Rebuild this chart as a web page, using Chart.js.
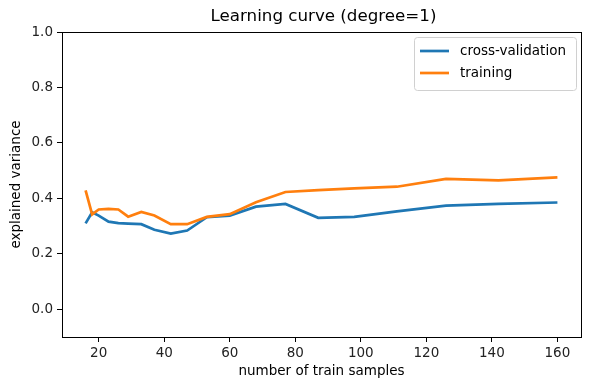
<!DOCTYPE html>
<html>
<head>
<meta charset="utf-8">
<script src="https://cdn.jsdelivr.net/npm/chart.js@4/dist/chart.umd.min.js"></script>
<style>
  html, body { margin: 0; padding: 0; background: #fff; }
  #wrap { width: 590px; height: 390px; }
</style>
</head>
<body>
<div id="wrap"><canvas id="chart-curve" width="590" height="390"></canvas></div>
<script>
// Learning curve values
const trainSizes = [16, 18, 20, 23, 26, 29, 33, 37, 42, 47, 53, 60, 68, 77, 87, 98, 111, 126, 142, 160];
const cvScores = [0.310, 0.350, 0.338, 0.316, 0.311, 0.309, 0.307, 0.287, 0.273, 0.284,
                  0.332, 0.338, 0.370, 0.380, 0.330, 0.333, 0.353, 0.374, 0.380, 0.385];
const trainScores = [0.429, 0.342, 0.360, 0.362, 0.360, 0.334, 0.351, 0.338, 0.307, 0.307,
                     0.333, 0.343, 0.386, 0.423, 0.430, 0.436, 0.442, 0.470, 0.465, 0.476];
const xTicks = [20, 40, 60, 80, 100, 120, 140, 160];
const yTicks = [0.0, 0.2, 0.4, 0.6, 0.8, 1.0];

const FONT = "'DejaVu Sans', sans-serif";
const BLUE = "#1f77b4";
const ORANGE = "#ff7f0e";

// frame, title and matplotlib-style legend
const decor = {
    id: "decor",
    afterDraw(chart) {
        const ctx = chart.ctx;
        const a = chart.chartArea;
        ctx.save();
        ctx.strokeStyle = "#000";
        ctx.lineWidth = 1;
        ctx.strokeRect(Math.round(a.left) + 0.5, Math.round(a.top) + 0.5,
                       Math.round(a.right - a.left), Math.round(a.bottom - a.top));

        ctx.fillStyle = "#000";
        ctx.font = "16.7px " + FONT;
        ctx.textAlign = "center";
        ctx.textBaseline = "middle";
        ctx.fillText("Learning curve (degree=1)", (a.left + a.right) / 2 + 2, 17);

        // legend
        const bx = a.right - 167, by = a.top + 5, bw = 162, bh = 53;
        ctx.beginPath();
        ctx.roundRect(bx + 0.5, by + 0.5, bw, bh, 3);
        ctx.fillStyle = "rgba(255,255,255,0.8)";
        ctx.fill();
        ctx.strokeStyle = "#d0d0d0";
        ctx.stroke();
        ctx.font = "13.5px " + FONT;
        ctx.textAlign = "left";
        chart.data.datasets.forEach((ds, i) => {
            const y = by + 14 + i * 22;
            ctx.strokeStyle = ds.borderColor;
            ctx.lineWidth = 2.7;
            ctx.beginPath();
            ctx.moveTo(bx + 6, y);
            ctx.lineTo(bx + 35, y);
            ctx.stroke();
            ctx.fillStyle = "#000";
            ctx.fillText(ds.label, bx + 46, y);
        });
        ctx.restore();
    }
};

new Chart(document.getElementById("chart-curve"), {
    type: "line",
    data: {
        labels: trainSizes,
        datasets: [{
            label: "cross-validation",
            data: trainSizes.map((x, i) => ({ x: x, y: cvScores[i] })),
            borderColor: BLUE,
            borderWidth: 2.7,
            pointRadius: 0,
            tension: 0,
            order: 1
        }, {
            label: "training",
            data: trainSizes.map((x, i) => ({ x: x, y: trainScores[i] })),
            borderColor: ORANGE,
            borderWidth: 2.7,
            pointRadius: 0,
            tension: 0,
            order: 0
        }]
    },
    options: {
        responsive: false,
        animation: false,
        events: [],
        layout: { padding: { top: 32, right: 9, left: 0, bottom: 0 } },
        plugins: {
            legend: { display: false },
            title: { display: false },
            tooltip: { enabled: false }
        },
        scales: {
            x: {
                type: "linear",
                min: 8.8,
                max: 167.2,
                afterBuildTicks: s => { s.ticks = xTicks.map(v => ({ value: v })); },
                afterFit: s => { s.height = 53; },
                grid: { drawOnChartArea: false, drawTicks: true, tickLength: 5, color: "#000" },
                border: { display: true, color: "#000" },
                ticks: { color: "#222", font: { family: FONT, size: 13.5 }, padding: 3, maxRotation: 0 },
                title: { display: true, text: "number of train samples", color: "#000",
                         font: { family: FONT, size: 13.5 }, padding: { top: 2, bottom: 10 } }
            },
            y: {
                min: -0.1,
                max: 1.0,
                afterBuildTicks: s => { s.ticks = yTicks.map(v => ({ value: v })); },
                afterFit: s => { s.width = 62; },
                grid: { drawOnChartArea: false, drawTicks: true, tickLength: 5, color: "#000" },
                border: { display: true, color: "#000" },
                ticks: { color: "#222", font: { family: FONT, size: 13.5 }, padding: 4,
                         callback: v => v.toFixed(1) },
                title: { display: true, text: "explained variance", color: "#000",
                         font: { family: FONT, size: 13.5 }, padding: { top: 8, bottom: 0 } }
            }
        }
    },
    plugins: [decor]
});
</script>
</body>
</html>
